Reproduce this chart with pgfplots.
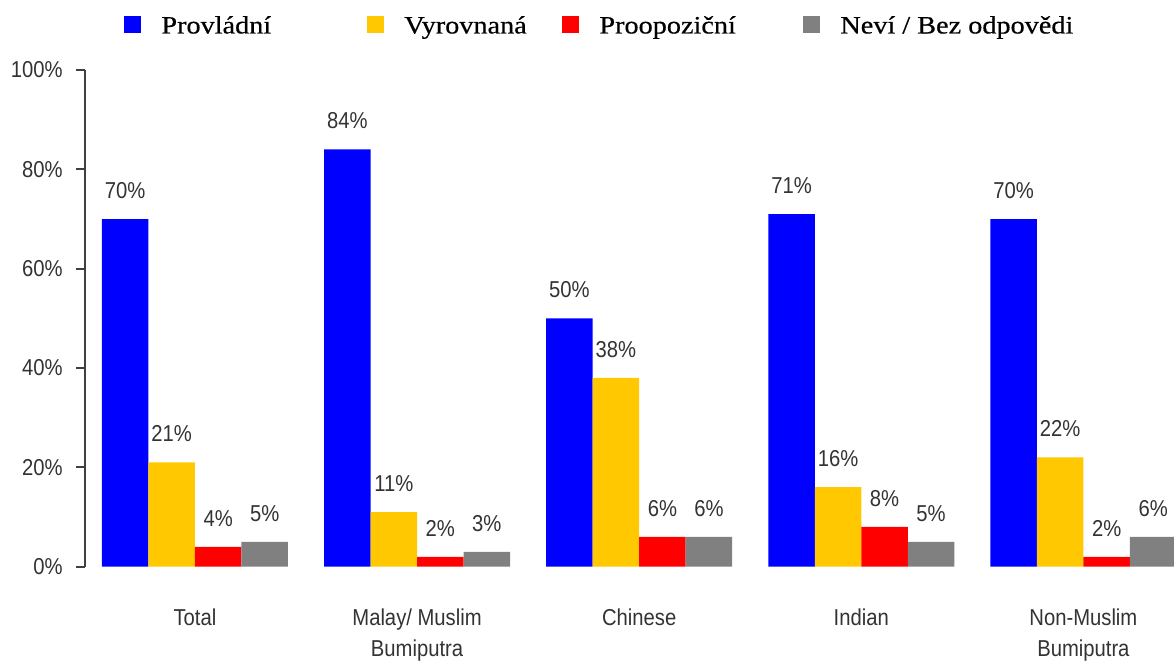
\documentclass[border=0pt]{standalone}
\usepackage{fontspec}
\setmainfont{Liberation Sans}[FakeStretch=0.88]
\newfontfamily\legfont{Liberation Serif}[FakeStretch=1.13,FakeBold=0.5]
\usepackage{pgfplots}
\pgfplotsset{compat=1.18}
\definecolor{cBlue}{RGB}{0,0,255}
\definecolor{cYel}{RGB}{255,200,0}
\definecolor{cRed}{RGB}{255,0,0}
\definecolor{cGray}{RGB}{128,128,128}
\definecolor{txt}{RGB}{51,51,51}
\definecolor{axc}{RGB}{64,64,64}
\begin{document}
\begin{tikzpicture}
\begin{axis}[
  at={(0,0)}, anchor=south west,
  scale only axis, width=544.5pt, height=248.35pt,
  xmin=-0.495, xmax=4.408, ymin=0, ymax=100,
  ybar=0pt, bar width=0.2094,
  legend image code/.code={\fill[#1,draw=none] (0pt,-4.25pt) rectangle (8.5pt,4.25pt); \path (18.5pt,0pt);},
  axis y line*=left, axis x line*=bottom,
  x axis line style={draw=none},
  y axis line style={axc, line width=0.9pt},
  xtick={0,1,2,3,4},
  xticklabels={{Total},{Malay/ Muslim\\Bumiputra},{Chinese},{Indian},{Non-Muslim\\Bumiputra}},
  xtick style={draw=none},
  xticklabel style={align=center, anchor=north, inner sep=0pt, yshift=-16.5pt, text=txt, font=\fontsize{11.5pt}{15.5pt}\selectfont},
  ytick={0,20,40,60,80,100},
  yticklabel={\pgfmathprintnumber{\tick}\%},
  yticklabel style={anchor=east, inner sep=0pt, xshift=-6.5pt, text=txt, font=\fontsize{11.5pt}{13pt}\selectfont},
  ytick style={axc, line width=0.9pt},
  tick align=outside, major tick length=4.5pt,
  /pgf/number format/assume math mode=true,
  nodes near coords={\pgfmathprintnumber{\pgfplotspointmeta}\%},
  every node near coord/.append style={font=\fontsize{11.5pt}{13pt}\selectfont, text=txt, anchor=south, inner sep=0pt, yshift=10pt},
  legend columns=4, legend cell align=left,
  legend style={at={(axis description cs:0.0358,1.0906)}, anchor=west, draw=none, fill=none, inner sep=0pt, column sep=0pt,
    font=\legfont\fontsize{12.5pt}{14pt}\selectfont, nodes={inner sep=0pt, text height=8.5pt, text depth=0pt}},
]
\addplot[fill=cBlue, draw=none] coordinates {(0,70) (1,84) (2,50) (3,71) (4,70)};
\addlegendentry{\makebox[103pt][l]{Provládní}}
\addplot[fill=cYel, draw=none] coordinates {(0,21) (1,11) (2,38) (3,16) (4,22)};
\addlegendentry{\makebox[79pt][l]{Vyrovnaná}}
\addplot[fill=cRed, draw=none] coordinates {(0,4) (1,2) (2,6) (3,8) (4,2)};
\addlegendentry{\makebox[102pt][l]{Proopoziční}}
\addplot[fill=cGray, draw=none] coordinates {(0,5) (1,3) (2,6) (3,5) (4,6)};
\addlegendentry{Neví / Bez odpovědi}
\end{axis}
\pgfresetboundingbox
\useasboundingbox (-42.5pt,-46.65pt) rectangle (544.5pt,283.35pt);
\end{tikzpicture}
\end{document}
